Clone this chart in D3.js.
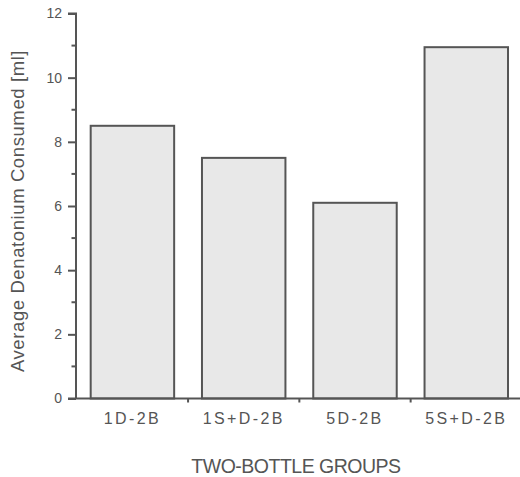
<!DOCTYPE html>
<html><head><meta charset="utf-8">
<script src="https://cdn.jsdelivr.net/npm/d3@7"></script>
<style>body{margin:0;background:#fff}svg{display:block}</style>
</head><body>
<script>
const categories = ["1D-2B", "1S+D-2B", "5D-2B", "5S+D-2B"];
const values = [8.5, 7.5, 6.1, 10.95];
const yTicks = [0, 2, 4, 6, 8, 10, 12];
const yMinorTicks = [1, 3, 5, 7, 9, 11];
const yTitle = "Average Denatonium Consumed [ml]";
const xTitle = "TWO-BOTTLE GROUPS";

const W = 520, H = 477;
const ink = "#555";
const font = "'Liberation Sans', Arial, sans-serif";
const svg = d3.select("body").append("svg").attr("width", W).attr("height", H);

const y = d3.scaleLinear().domain([0, 12]).range([398.5, 13.5]);
const x = d3.scaleBand().domain(categories).range([76, 522.7]).paddingInner(0.25).paddingOuter(0.132);

// bars
svg.selectAll("rect.bar").data(values).enter().append("rect")
  .attr("class", "bar")
  .attr("x", (d, i) => x(categories[i]))
  .attr("y", d => y(d))
  .attr("width", x.bandwidth())
  .attr("height", d => y(0) - y(d))
  .attr("fill", "#e8e8e8")
  .attr("stroke", ink)
  .attr("stroke-width", 2);

// y axis
const yAxis = d3.axisLeft(y).tickValues(yTicks).tickSize(8).tickPadding(6).tickFormat(d3.format("d"));
const gy = svg.append("g").attr("transform", "translate(76,0)").call(yAxis);
gy.select(".domain").attr("stroke", ink).attr("stroke-width", 2).attr("d", `M-8,${y(12)}H0V${y(0)}`);
gy.selectAll(".tick line").attr("stroke", ink).attr("stroke-width", 2);
gy.selectAll(".tick text").attr("fill", ink).attr("font-family", font).attr("font-size", 14);
gy.selectAll("line.minor").data(yMinorTicks).enter().append("line")
  .attr("class", "minor").attr("x1", -4.5).attr("x2", 0)
  .attr("y1", d => y(d)).attr("y2", d => y(d))
  .attr("stroke", ink).attr("stroke-width", 2);

// x axis
const gap = x.step() * x.paddingInner();
const xAxis = d3.axisBottom(x).tickSize(0).tickPadding(14);
const gx = svg.append("g").attr("transform", `translate(0,${y(0)})`).call(xAxis);
gx.select(".domain").attr("stroke", ink).attr("stroke-width", 2).attr("d", `M68,0H${W}`);
gx.selectAll(".tick text").attr("fill", ink).attr("font-family", font).attr("font-size", 16)
  .attr("letter-spacing", "2.4px");
gx.selectAll("line.sep").data(categories.slice(1)).enter().append("line")
  .attr("class", "sep")
  .attr("x1", d => x(d) - gap / 2).attr("x2", d => x(d) - gap / 2)
  .attr("y1", 0).attr("y2", 4)
  .attr("stroke", ink).attr("stroke-width", 2);

// titles
svg.append("text").attr("transform", `translate(24,211) rotate(-90)`)
  .attr("text-anchor", "middle").attr("fill", ink).attr("font-family", font).attr("font-size", 18.5)
  .attr("letter-spacing", "0.6px")
  .text(yTitle);
svg.append("text").attr("x", 296).attr("y", 473)
  .attr("text-anchor", "middle").attr("fill", ink).attr("font-family", font).attr("font-size", 19.5)
  .attr("letter-spacing", "-0.5px")
  .text(xTitle);
</script>
</body></html>
